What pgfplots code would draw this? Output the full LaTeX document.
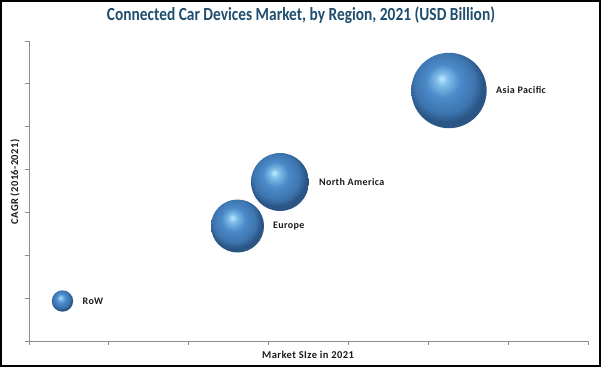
\documentclass[border=0pt]{standalone}
\usepackage{pgfplots}
\pgfplotsset{compat=1.18}
\usepackage{fontspec}
\setmainfont{Carlito}
\newfontfamily\lblfont[LetterSpace=4.0]{Carlito}
\definecolor{titlec}{HTML}{1F4E6E}
\definecolor{axisc}{HTML}{8C8C8C}
\definecolor{txtc}{HTML}{1A1A1A}
\definecolor{bc0}{HTML}{BDEBFF}
\definecolor{bc1}{HTML}{80BDE8}
\definecolor{bc2}{HTML}{4C8ACA}
\definecolor{bc3}{HTML}{3D75AF}
\definecolor{bc4}{HTML}{2A5585}
\pgfdeclareradialshading{ballshade}{\pgfpoint{-5bp}{8bp}}{color(0bp)=(bc0); color(4bp)=(bc1); color(11bp)=(bc2); color(20bp)=(bc3); color(25bp)=(bc4); color(50bp)=(bc4)}
\pgfdeclareplotmark{ball}{\pgfpathcircle{\pgfpointorigin}{\pgfplotmarksize}\pgfshadepath{ballshade}{0}\pgfusepath{}}
\newcommand{\lbl}{\lblfont\bfseries\fontsize{10bp}{12bp}\selectfont}
\newcommand{\axlbl}{\lblfont\bfseries\fontsize{10.5bp}{12bp}\selectfont}
\begin{document}
\begin{tikzpicture}
\draw[line width=1.6bp] (0.8bp,0.8bp) rectangle (600.2bp,366.2bp);
\begin{axis}[
  at={(29bp,26bp)}, anchor=south west, scale only axis,
  width=559bp, height=300bp,
  xmin=0, xmax=7, ymin=0, ymax=7,
  xtick={0,...,7}, ytick={0,...,7},
  xticklabels={}, yticklabels={},
  axis x line*=bottom, axis y line*=left,
  axis line style={-, axisc, line width=0.9bp},
  tick align=outside, major tick length=4bp,
  tick style={axisc, line width=0.9bp},
  clip=false,
]
\addplot[only marks, mark=ball, mark size=10.7bp, nodes near coords={RoW},
  every node near coord/.style={anchor=west, xshift=10.7bp+6bp, font=\lbl, text=txtc}]
  coordinates {(0.419,0.933)};
\addplot[only marks, mark=ball, mark size=26.5bp, nodes near coords={Europe},
  every node near coord/.style={anchor=west, xshift=26.5bp+5.5bp, font=\lbl, text=txtc}]
  coordinates {(2.611,2.683)};
\addplot[only marks, mark=ball, mark size=29bp, nodes near coords={North America},
  every node near coord/.style={anchor=west, xshift=29bp+6.5bp, font=\lbl, text=txtc}]
  coordinates {(3.143,3.71)};
\addplot[only marks, mark=ball, mark size=37.7bp, nodes near coords={Asia Pacific},
  every node near coord/.style={anchor=west, xshift=37.7bp+6bp, font=\lbl, text=txtc}]
  coordinates {(5.259,5.845)};
\end{axis}
\node[anchor=base, text=titlec, inner sep=0pt] at (301bp,346bp)
  {\resizebox{388bp}{\height}{\fontsize{18.5bp}{20bp}\selectfont\bfseries Connected Car Devices Market, by Region, 2021 (USD Billion)}};
\node[anchor=center, text=txtc, inner sep=0pt] at (308bp,12bp) {\axlbl Market SIze in 2021};
\node[anchor=center, text=txtc, inner sep=0pt, rotate=90] at (15bp,185bp) {\axlbl CAGR (2016-2021)};
\end{tikzpicture}
\end{document}
